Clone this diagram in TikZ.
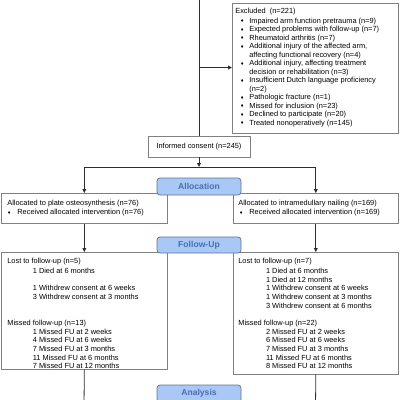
\documentclass[tikz,border=0pt]{standalone}
\usepackage{fontspec}
\setmainfont{Liberation Sans}
\newfontfamily\symf{DejaVu Sans}
\usetikzlibrary{arrows.meta}
\definecolor{boxgray}{RGB}{128,128,128}
\definecolor{linec}{RGB}{45,45,45}
\definecolor{hfill}{RGB}{169,200,245}
\definecolor{hdraw}{RGB}{95,115,150}
\definecolor{htext}{RGB}{74,111,176}
\newcommand{\bul}{\makebox[0pt][l]{\raisebox{0.4pt}{\symf\fontsize{4.2}{5}\selectfont ♦}}}
% #1 width, #2 height, #3 left pad, #4 baselineskip, #5 first baseline, #6 content
\newcommand{\bxc}[6]{\begin{minipage}[t][#2][t]{#1}\fontsize{7.4}{#4}\selectfont\setlength{\parindent}{0pt}\leftskip=#3\relax\rule{0pt}{#5}#6\end{minipage}}
\tikzset{
  bx/.style={draw=boxgray, line width=0.7pt, inner sep=0pt, anchor=north west},
  ln/.style={draw=linec, line width=0.8pt},
  arr/.style={-{Triangle[length=4pt,width=3.8pt]}},
  hdr/.style={draw=hdraw, fill=hfill, line width=0.7pt, rounded corners=3pt,
    minimum width=84pt, inner sep=0pt, text=htext,
    font=\fontsize{8.6}{9}\selectfont\bfseries},
}
\begin{document}
\begin{tikzpicture}[x=1pt,y=-1pt]
\useasboundingbox (0,0) rectangle (400,400);
\clip (0,0) rectangle (400,400);

\node[bx] (excl) at (232,3) {\bxc{166pt}{130pt}{3pt}{8.5pt}{9.7pt}{%
Excluded\ \ (n=221)\\[1.5pt]
\hspace*{5pt}\bul\hspace*{9pt}Impaired arm function pretrauma (n=9)\\
\hspace*{5pt}\bul\hspace*{9pt}Expected problems with follow-up (n=7)\\
\hspace*{5pt}\bul\hspace*{9pt}Rheumatoid arthritis (n=7)\\
\hspace*{5pt}\bul\hspace*{9pt}Additional injury of the affected arm,\\
\hspace*{14pt}affecting functional recovery (n=4)\\
\hspace*{5pt}\bul\hspace*{9pt}Additional injury, affecting treatment\\
\hspace*{14pt}decision or rehabilitation (n=3)\\
\hspace*{5pt}\bul\hspace*{9pt}Insufficient Dutch language proficiency\\
\hspace*{14pt}(n=2)\\
\hspace*{5pt}\bul\hspace*{9pt}Pathologic fracture (n=1)\\
\hspace*{5pt}\bul\hspace*{9pt}Missed for inclusion (n=23)\\
\hspace*{5pt}\bul\hspace*{9pt}Declined to participate (n=20)\\
\hspace*{5pt}\bul\hspace*{9pt}Treated nonoperatively (n=145)}};

\node[draw=boxgray, line width=0.7pt, minimum width=102pt, minimum height=21pt,
  inner sep=0pt, font=\fontsize{7.4}{8.5}\selectfont] (cons) at (199,146.5)
  {Informed consent (n=245)};

\node[bx] (allocL) at (1,193) {\bxc{166pt}{30pt}{6pt}{9pt}{12.6pt}{%
Allocated to plate osteosynthesis (n=76)\\
\bul\hspace*{10pt}Received allocated intervention (n=76)}};

\node[bx] (allocR) at (233,193) {\bxc{165pt}{30pt}{5pt}{9pt}{12.6pt}{%
Allocated to intramedullary nailing (n=169)\\
\hspace*{1pt}\bul\hspace*{10pt}Received allocated intervention (n=169)}};

\node[bx] (lostL) at (1,252) {\bxc{166pt}{117pt}{6pt}{8.65pt}{11.6pt}{%
Lost to follow-up (n=5)\\[1pt]
\hspace*{25.5pt}1 Died at 6 months\\
\mbox{}\\
\hspace*{25.5pt}1 Withdrew consent at 6 weeks\\
\hspace*{25.5pt}3 Withdrew consent at 3 months\\
\mbox{}\\
\mbox{}\\
Missed follow-up (n=13)\\
\hspace*{25.5pt}1 Missed FU at 2 weeks\\
\hspace*{25.5pt}4 Missed FU at 6 weeks\\
\hspace*{25.5pt}7 Missed FU at 3 months\\
\hspace*{25.5pt}11 Missed FU at 6 months\\
\hspace*{25.5pt}7 Missed FU at 12 months}};

\node[bx] (lostR) at (233,252) {\bxc{165pt}{122pt}{5pt}{8.65pt}{11.6pt}{%
Lost to follow-up (n=7)\\[1pt]
\hspace*{27.7pt}1 Died at 6 months\\
\hspace*{27.7pt}1 Died at 12 months\\
\hspace*{27.7pt}1 Withdrew consent at 6 weeks\\
\hspace*{27.7pt}1 Withdrew consent at 3 months\\
\hspace*{27.7pt}3 Withdrew consent at 6 months\\
\mbox{}\\
Missed follow-up (n=22)\\
\hspace*{27.7pt}2 Missed FU at 2 weeks\\
\hspace*{27.7pt}6 Missed FU at 6 weeks\\
\hspace*{27.7pt}7 Missed FU at 3 months\\
\hspace*{27.7pt}11 Missed FU at 6 months\\
\hspace*{27.7pt}8 Missed FU at 12 months}};

% connectors
\coordinate (top) at (199,-2);
\coordinate (br) at (199,67.5);
\coordinate (split) at (199,167);
\coordinate (endL) at (84,406);
\coordinate (endR) at (315.5,406);
\draw[ln] (top) -- (cons.north);
\draw[ln,arr] (br) -- (br -| excl.west);
\draw[ln,arr] (cons.south) -- (split);
\draw[ln,arr] (split) -| (allocL.north);
\draw[ln,arr] (split) -| (allocR.north);
\draw[ln,arr] (allocL.south) -- (lostL.north);
\draw[ln,arr] (allocR.south) -- (lostR.north);
\draw[ln,arr] (lostL.south) -- (endL);
\draw[ln,arr] (lostR.south) -- (endR);

% phase headers
\node[hdr, minimum height=17pt] (hA) at (199,186.5) {Allocation};
\node[hdr, minimum height=16pt] (hF) at (199,245) {Follow-Up};
\node[hdr, minimum height=17pt] (hN) at (199,393.5) {Analysis};
\end{tikzpicture}
\end{document}
